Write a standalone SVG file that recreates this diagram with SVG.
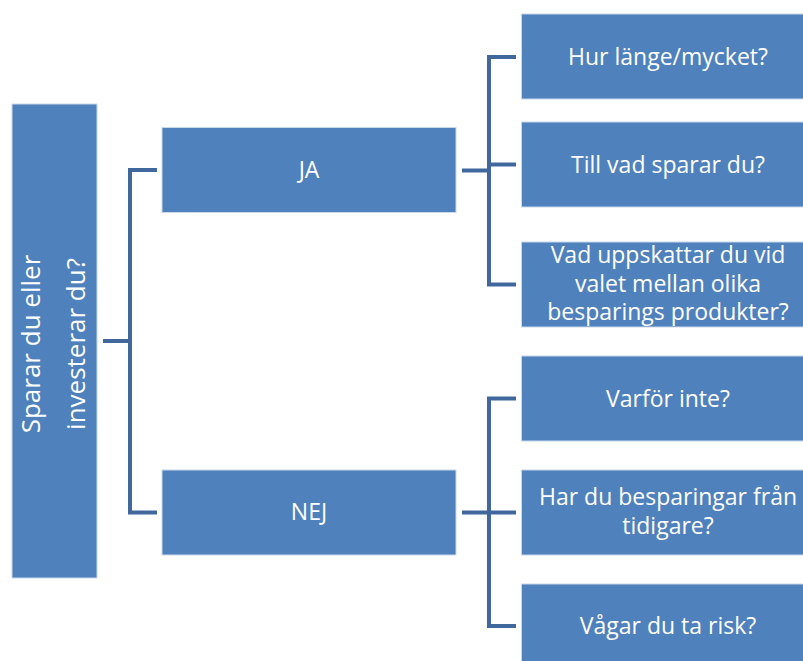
<svg xmlns="http://www.w3.org/2000/svg" width="803" height="661" viewBox="0 0 803 661">
<style>
.box{fill:#4F81BD;stroke:#C9D7EA;stroke-width:1}
.t{font-family:"Open Sans","Noto Sans","Liberation Sans",sans-serif;font-size:23px;fill:#FFFFFF;text-anchor:middle}
.rt{font-size:26px}
.con{fill:none;stroke:#41689D;stroke-width:4;stroke-linejoin:miter;stroke-linecap:butt}
</style>
<rect width="803" height="661" fill="#FFFFFF"/>
<g id="connectors">
<path class="con" d="M103,341 H130 M157,170 H130 V512.5 H157"/>
<path class="con" d="M462,170.5 H489 M516,57 H489 V284.5 H516 M489,164.5 H516"/>
<path class="con" d="M462,512.5 H516 M516,398.5 H489 V626 H516"/>
</g>
<g id="root">
<rect class="box" x="12" y="104" width="85" height="474"/>
<text class="t rt" transform="translate(40,344) rotate(-90)">Sparar du eller</text>
<text class="t rt" transform="translate(85,344) rotate(-90)">investerar du?</text>
</g>
<g id="ja">
<rect class="box" x="162" y="127.5" width="294" height="85"/>
<text class="t" x="309" y="178">JA</text>
</g>
<g id="nej">
<rect class="box" x="162" y="470" width="294" height="85"/>
<text class="t" x="309" y="520">NEJ</text>
</g>
<g id="q1">
<rect class="box" x="521.5" y="14" width="294" height="85"/>
<text class="t" x="668" y="64.5">Hur länge/mycket?</text>
</g>
<g id="q2">
<rect class="box" x="521.5" y="122" width="294" height="85"/>
<text class="t" x="668" y="172.5">Till vad sparar du?</text>
</g>
<g id="q3">
<rect class="box" x="521.5" y="242" width="294" height="85"/>
<text class="t" x="668" y="263">Vad uppskattar du vid</text>
<text class="t" x="668" y="291.5">valet mellan olika</text>
<text class="t" x="668" y="320">besparings produkter?</text>
</g>
<g id="q4">
<rect class="box" x="521.5" y="356" width="294" height="85"/>
<text class="t" x="668" y="406.5">Varför inte?</text>
</g>
<g id="q5">
<rect class="box" x="521.5" y="470" width="294" height="85"/>
<text class="t" x="668" y="505">Har du besparingar från</text>
<text class="t" x="668" y="534">tidigare?</text>
</g>
<g id="q6">
<rect class="box" x="521.5" y="584" width="294" height="85"/>
<text class="t" x="668" y="633.5">Vågar du ta risk?</text>
</g>
</svg>
